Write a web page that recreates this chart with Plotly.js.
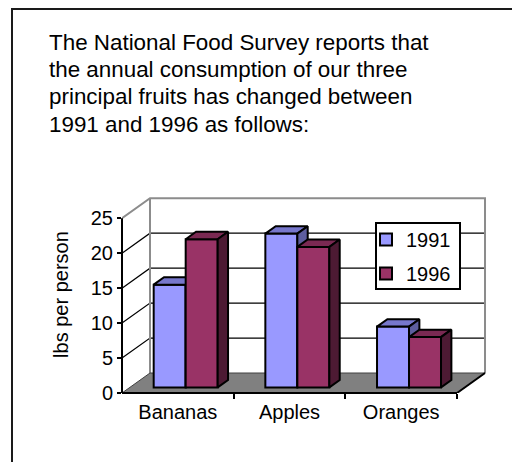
<!DOCTYPE html>
<html>
<head>
<meta charset="utf-8">
<script src="https://cdn.plot.ly/plotly-3.0.1.min.js"></script>
<style>
  html, body { margin: 0; padding: 0; background: #fff; }
  #chart { width: 512px; height: 462px; }
</style>
</head>
<body>
<div id="chart"></div>
<script>
// Annual fruit consumption, lbs per person
const categories = ['Bananas', 'Apples', 'Oranges'];
const seriesNames = ['1991', '1996'];
const values1991 = [14.7, 22.0, 8.7];
const values1996 = [21.2, 20.1, 7.2];
const yTicks = [0, 5, 10, 15, 20, 25];
const introLines = [
  'The National Food Survey reports that',
  'the annual consumption of our three',
  'principal fruits has changed between',
  '1991 and 1996 as follows:'
];

// ---- page geometry ----
const W = 512, H = 462;
const M = { l: 122, r: 24, t: 196, b: 69 };
const plotW = W - M.l - M.r, plotH = H - M.t - M.b;
const PX_X = 111.67;          // px per category on the front plane
const PX_Y = 6.99;            // px per lb on the front plane
const xRange = [-0.5, -0.5 + plotW / PX_X];
const yRange = [0, plotH / PX_Y];
const X0 = -0.5, X1 = categories.length - 0.5, YTOP = 25;

// oblique depth of the 3D box (full depth), in data units
const DX = 28 / PX_X, DY = 20 / PX_Y;
const BAR_FRONT = 0.28, BAR_DEPTH = 0.37;   // fractions of full depth
const BW = 32 / PX_X;                        // bar width
const bx = BAR_FRONT * DX, bz = BAR_FRONT * DY;
const ddx = BAR_DEPTH * DX, ddy = BAR_DEPTH * DY;

// pixel -> paper helpers for frame decorations
const PX = px => (px - M.l) / plotW;
const PY = py => (H - M.b - py) / plotH;

const FONT = '"Liberation Sans", Arial, sans-serif';
const xPos = categories.map((c, i) => i);

const palette = {
  '1991': { front: '#9999ff', top: '#7777cc', side: '#5e5e9e' },
  '1996': { front: '#993366', top: '#7a2952', side: '#4d1a33' }
};

// top and side faces of each bar, as closed polygons split by gaps
function faces(vals, leftOf) {
  const top = { x: [], y: [] }, side = { x: [], y: [] };
  vals.forEach((v, i) => {
    const xl = leftOf(i), xr = xl + BW, yt = bz + v;
    top.x.push(xl, xr, xr + ddx, xl + ddx, xl, null);
    top.y.push(yt, yt, yt + ddy, yt + ddy, yt, null);
    side.x.push(xr, xr, xr + ddx, xr + ddx, xr, null);
    side.y.push(bz, yt, yt + ddy, bz + ddy, bz, null);
  });
  return { top, side };
}

function seriesTraces(name, vals, offset, xa, ya) {
  const col = palette[name];
  const f = faces(vals, i => xPos[i] + offset);
  const edge = { color: '#000', width: 2 };
  return [
    {
      type: 'bar', name: name, legendgroup: name,
      x: xPos, y: vals, base: bz, width: BW, offset: offset,
      marker: { color: col.front, line: edge },
      xaxis: xa, yaxis: ya, hoverinfo: 'skip'
    },
    {
      type: 'scatter', mode: 'lines', fill: 'toself', showlegend: false,
      x: f.top.x, y: f.top.y, fillcolor: col.top, line: edge,
      xaxis: xa, yaxis: ya, hoverinfo: 'skip', legendgroup: name
    },
    {
      type: 'scatter', mode: 'lines', fill: 'toself', showlegend: false,
      x: f.side.x, y: f.side.y, fillcolor: col.side, line: edge,
      xaxis: xa, yaxis: ya, hoverinfo: 'skip', legendgroup: name
    }
  ];
}

const data = [
  ...seriesTraces(seriesNames[0], values1991, bx - BW, 'x', 'y'),
  ...seriesTraces(seriesNames[1], values1996, bx, 'x2', 'y2')
];

// ---- walls, floor and grid ----
const shapes = [];
const xy = { xref: 'x', yref: 'y', layer: 'below' };
// back wall
shapes.push({ ...xy, type: 'rect', x0: X0 + DX, x1: X1 + DX, y0: DY, y1: YTOP + DY,
  fillcolor: '#fff', line: { width: 0 } });
// grid on left and back walls
yTicks.filter(v => v > 0 && v < YTOP).forEach(v => {
  shapes.push({ ...xy, type: 'path',
    path: `M${X0},${v} L${X0 + DX},${v + DY} L${X1 + DX},${v + DY}`,
    line: { color: '#000', width: 1.2 } });
});
// wall edges
shapes.push({ ...xy, type: 'path',
  path: `M${X0},${YTOP} L${X0 + DX},${YTOP + DY} L${X1 + DX},${YTOP + DY} L${X1 + DX},${DY} M${X0 + DX},${YTOP + DY} L${X0 + DX},${DY}`,
  line: { color: '#8c8c8c', width: 2 } });
// floor
shapes.push({ ...xy, type: 'path',
  path: `M${X0},0 L${X1},0 L${X1 + DX},${DY} L${X0 + DX},${DY} Z`,
  fillcolor: '#808080', line: { color: '#404040', width: 1 } });
shapes.push({ ...xy, type: 'path',
  path: `M${X1},0 L${X1 + DX},${DY}`, line: { color: '#000', width: 2 } });
// front axis lines
shapes.push({ xref: 'paper', yref: 'y', type: 'line', x0: 0, x1: 0, y0: 0, y1: YTOP,
  line: { color: '#000', width: 2 }, layer: 'above' });
shapes.push({ xref: 'x', yref: 'paper', type: 'line', x0: X0, x1: X1, y0: 0, y1: 0,
  line: { color: '#000', width: 2 }, layer: 'above' });
// legend box
shapes.push({ xref: 'paper', yref: 'paper', type: 'rect',
  x0: PX(376), x1: PX(460), y0: PY(289), y1: PY(223),
  fillcolor: '#fff', line: { color: '#000', width: 2 }, layer: 'above' });
// page frame
shapes.push({ xref: 'paper', yref: 'paper', type: 'path',
  path: `M${PX(12)},${PY(475)} L${PX(12)},${PY(9)} L${PX(525)},${PY(9)}`,
  line: { color: '#1a1a1a', width: 2 }, layer: 'above' });

const annotations = introLines.map((t, i) => ({
  text: t, xref: 'paper', yref: 'paper',
  x: PX(46.5), y: PY(42.5 + i * 27.2), xanchor: 'left', yanchor: 'middle',
  showarrow: false, font: { family: FONT, size: 22.4, color: '#000' }
}));

const tickFont = { family: FONT, size: 20, color: '#000' };

const layout = {
  width: W, height: H,
  margin: M,
  paper_bgcolor: '#fff', plot_bgcolor: 'rgba(0,0,0,0)',
  showlegend: true,
  legend: {
    x: PX(366), y: PY(220), xanchor: 'left', yanchor: 'top',
    bgcolor: 'rgba(0,0,0,0)', borderwidth: 0,
    traceorder: 'grouped', tracegroupgap: 5,
    font: tickFont
  },
  xaxis: {
    range: xRange, showgrid: false, zeroline: false, showline: false,
    tickmode: 'array', tickvals: xPos, ticktext: categories, ticks: '',
    tickfont: tickFont, automargin: false, fixedrange: true,
    ticklabelstandoff: 5,
    minor: { tickmode: 'array', tickvals: [0.5, 1.5, 2.5], ticks: 'outside',
      ticklen: 5, tickwidth: 2, tickcolor: '#000', showgrid: false }
  },
  yaxis: {
    range: yRange, showgrid: false, zeroline: false, showline: false,
    tickmode: 'array', tickvals: yTicks, ticks: 'outside', ticklen: 4,
    tickwidth: 2, tickcolor: '#000', tickfont: tickFont, automargin: false,
    fixedrange: true,
    title: { text: 'lbs per person', font: tickFont, standoff: 16 }
  },
  xaxis2: { range: xRange, overlaying: 'x', visible: false, fixedrange: true },
  yaxis2: { range: yRange, overlaying: 'y', visible: false, fixedrange: true },
  shapes: shapes,
  annotations: annotations
};

Plotly.newPlot('chart', data, layout, { displayModeBar: false, staticPlot: true });
</script>
</body>
</html>
